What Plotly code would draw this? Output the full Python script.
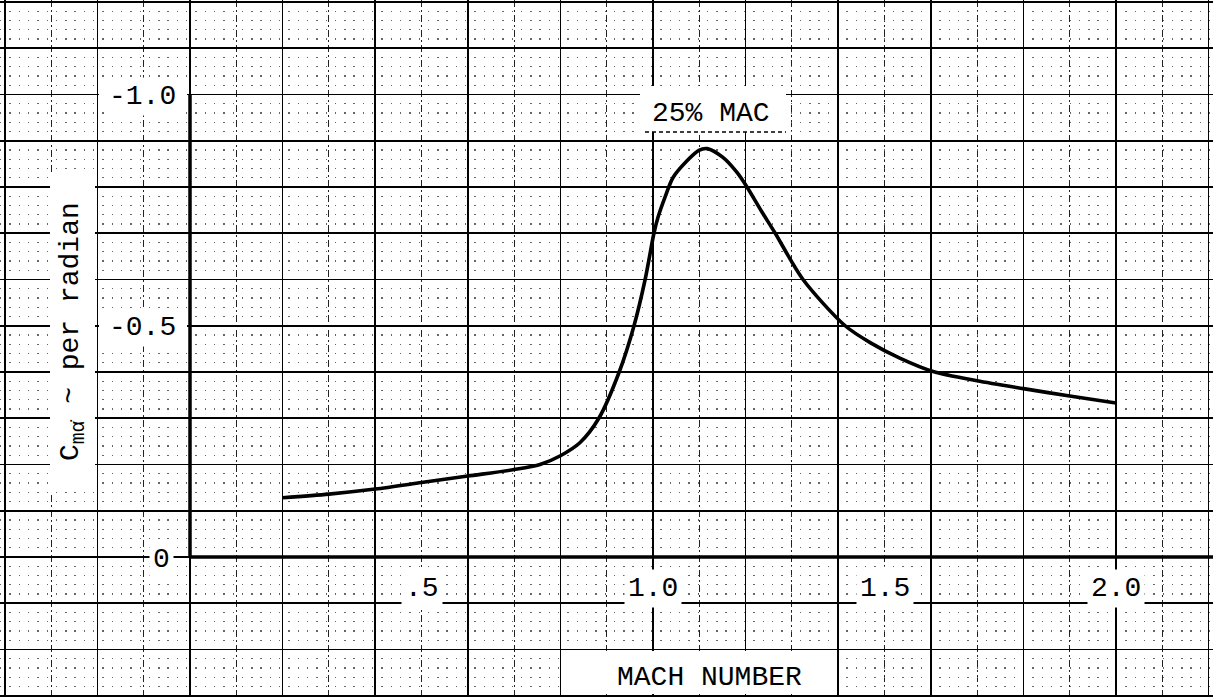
import plotly.graph_objects as go

# ---- data ----
mach = [0.20, 0.30, 0.40, 0.50, 0.60, 0.70, 0.756, 0.80, 0.842, 0.883, 0.927,
        0.959, 0.983, 1.002, 1.011, 1.026, 1.043, 1.073, 1.099, 1.117, 1.151,
        1.181, 1.203, 1.234, 1.264, 1.324, 1.415, 1.47, 1.533, 1.605, 1.70,
        1.80, 1.90, 2.00]
cm_alpha_dot = [-0.128, -0.136, -0.147, -0.161, -0.175, -0.189, -0.200, -0.219,
                -0.247, -0.300, -0.400, -0.500, -0.600, -0.700, -0.735, -0.778,
                -0.820, -0.856, -0.879, -0.883, -0.864, -0.832, -0.800, -0.748,
                -0.700, -0.600, -0.500, -0.463, -0.430, -0.401, -0.381, -0.364,
                -0.348, -0.333]

x_tick_vals = [0.5, 1.0, 1.5, 2.0]
x_tick_text = [".5", "1.0", "1.5", "2.0"]
y_tick_vals = [-1.0, -0.5, 0.0]
y_tick_text = ["-1.0", "-0.5", "0"]

x_title = "MACH NUMBER"
y_title = "C<sub>mα̇</sub> ~ per radian"
curve_label = "25% MAC"

# ---- layout helpers (pixel -> data for placing text) ----
W, H = 1213, 697
X0, SX = 190.0, 463.0
Y0, SY = 557.0, 462.5


def mx(px):
    return (px - X0) / SX


def vy(py):
    return (py - Y0) / SY


FONT = "Liberation Mono, DejaVu Sans Mono, monospace"
FS = 28

fig = go.Figure()
fig.add_trace(go.Scatter(
    x=mach, y=cm_alpha_dot, mode="lines",
    line=dict(color="black", width=3.6, shape="spline", smoothing=0.8),
    hoverinfo="skip", showlegend=False,
))

shapes = []
# white patches behind labels (cover the graph-paper grid)
shapes.append(dict(type="rect", xref="x", yref="y", layer="between",
                   x0=mx(640), x1=mx(786), y0=vy(86), y1=vy(132),
                   fillcolor="white", line=dict(width=0)))
shapes.append(dict(type="line", xref="x", yref="y", layer="between",
                   x0=mx(645), x1=mx(786), y0=vy(132), y1=vy(132),
                   line=dict(color="black", width=1.3, dash="4px,3px")))
shapes.append(dict(type="rect", xref="x", yref="y", layer="between",
                   x0=mx(564), x1=mx(835), y0=vy(651), y1=vy(694),
                   fillcolor="white", line=dict(width=0)))
shapes.append(dict(type="rect", xref="x", yref="y", layer="between",
                   x0=mx(50), x1=mx(95), y0=vy(172), y1=vy(492),
                   fillcolor="white", line=dict(width=0)))
shapes.append(dict(type="rect", xref="x", yref="y", layer="between",
                   x0=mx(99), x1=mx(187), y0=vy(315), y1=vy(345),
                   fillcolor="white", line=dict(width=0)))
shapes.append(dict(type="rect", xref="x", yref="y", layer="between",
                   x0=mx(99), x1=mx(187), y0=vy(82), y1=vy(110),
                   fillcolor="white", line=dict(width=0)))
# heavy axes
shapes.append(dict(type="line", xref="x", yref="y", layer="above",
                   x0=0, x1=mx(W), y0=0, y1=0,
                   line=dict(color="black", width=3.5)))
shapes.append(dict(type="line", xref="x", yref="y", layer="above",
                   x0=0, x1=0, y0=0, y1=-1.0,
                   line=dict(color="black", width=3.5)))

annotations = []
for v, t in zip(x_tick_vals, x_tick_text):
    annotations.append(dict(x=v, y=vy(588), text=t, showarrow=False,
                            font=dict(family=FONT, size=FS, color="black"),
                            bgcolor="white", borderpad=3))
for v, t in zip(y_tick_vals, y_tick_text):
    xpos = mx(161) if t == "0" else mx(142)
    annotations.append(dict(x=xpos, y=v + vy(Y0 + 2), text=t, showarrow=False,
                            font=dict(family=FONT, size=FS, color="black"),
                            bgcolor="white", borderpad=3))
annotations.append(dict(x=mx(709), y=vy(677), text=x_title, showarrow=False,
                        font=dict(family=FONT, size=FS, color="black")))
annotations.append(dict(x=mx(711), y=vy(113), text=curve_label, showarrow=False,
                        font=dict(family=FONT, size=FS, color="black")))
annotations.append(dict(x=mx(72), y=vy(332), text=y_title, showarrow=False,
                        textangle=-90,
                        font=dict(family=FONT, size=FS, color="black")))

fig.update_layout(
    width=W, height=H,
    margin=dict(l=0, r=0, t=0, b=0),
    paper_bgcolor="white", plot_bgcolor="white",
    shapes=shapes, annotations=annotations,
    xaxis=dict(range=[mx(0), mx(W)], tick0=0, dtick=0.2,
               showgrid=True, gridcolor="black", gridwidth=1.5,
               minor=dict(tick0=0, dtick=0.1, showgrid=True, gridcolor="#222",
                          gridwidth=1.1, griddash="7px,3px,2px,3px"),
               showticklabels=False, ticks="", zeroline=False, showline=False,
               fixedrange=True),
    yaxis=dict(range=[vy(H), vy(0)], tick0=0, dtick=0.1,
               showgrid=True, gridcolor="black", gridwidth=1.7,
               minor=dict(tick0=0, dtick=0.02, showgrid=True, gridcolor="#666",
                          gridwidth=1.4, griddash="1.4px,7.9px"),
               showticklabels=False, ticks="", zeroline=False, showline=False,
               fixedrange=True),
)

fig.write_html("out.html",
               config={"displayModeBar": False, "staticPlot": True},
               post_script="document.body.style.margin='0';"
                           "document.body.style.overflow='hidden';")
